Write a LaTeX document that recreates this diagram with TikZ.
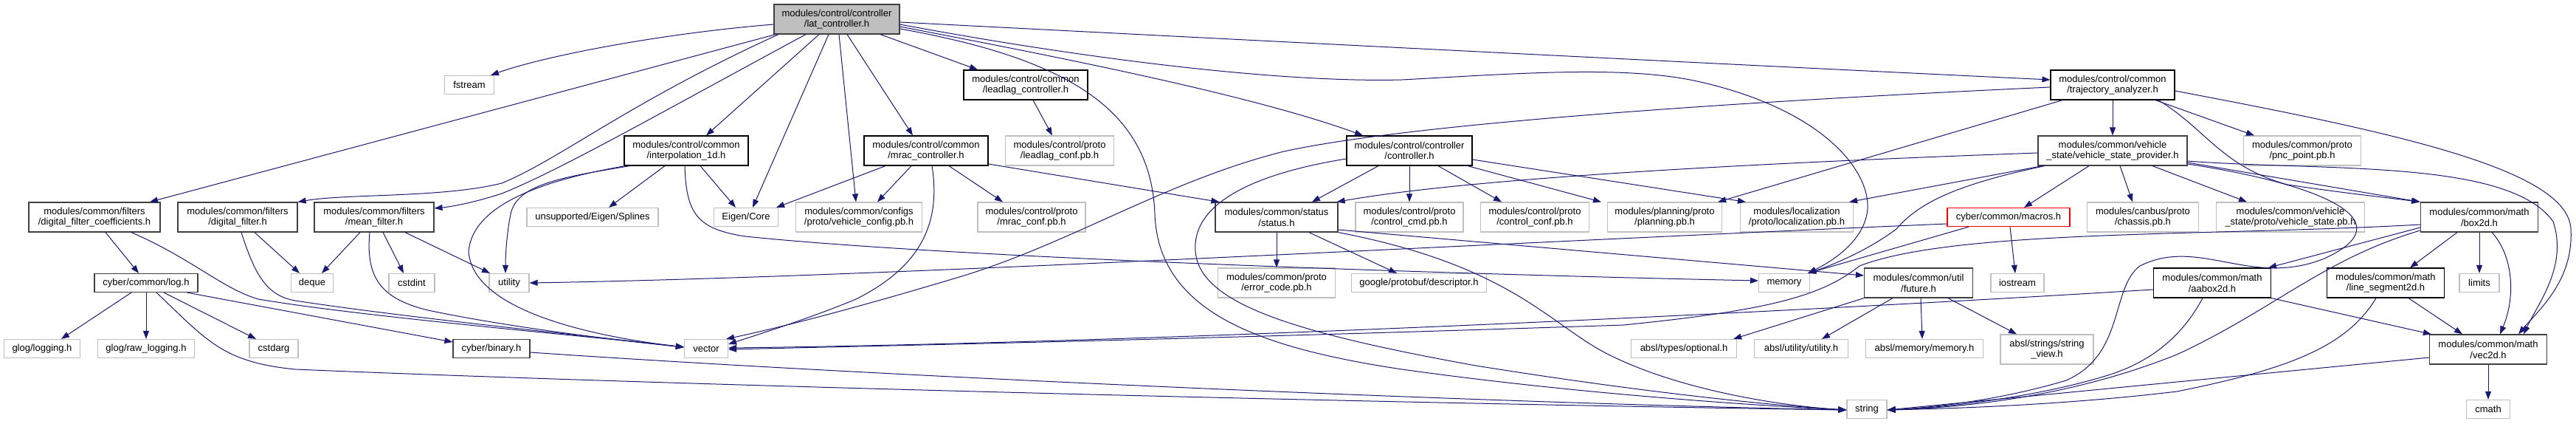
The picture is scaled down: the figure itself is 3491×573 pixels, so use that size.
\documentclass[tikz,border=0pt]{standalone}
\usepackage{fontspec}
\setmainfont{Liberation Sans}
\usetikzlibrary{arrows.meta}
\definecolor{edgeblue}{HTML}{191970}
\definecolor{lightbd}{HTML}{BFBFBF}
\definecolor{darkbd}{HTML}{404040}
\definecolor{rootfill}{HTML}{BFBFBF}
\begin{document}
\begin{tikzpicture}[x=1pt,y=-1pt,
  every node/.style={font=\fontsize{13pt}{14.7pt}\selectfont, align=center, inner sep=0pt, rectangle, fill=white},
  one/.style={minimum height=25pt},
  two/.style={minimum height=40pt},
  docb/.style={draw=black, line width=1.2pt},
  docg/.style={draw=darkbd, line width=1.2pt},
  ext/.style={draw=lightbd, line width=1.2pt},
  rootnode/.style={draw=darkbd, fill=rootfill, line width=1.2pt},
  rednode/.style={draw=red, line width=1.2pt},
  edge/.style={draw=edgeblue, line width=1pt, -{Triangle[length=11pt,width=8pt]}}]
\useasboundingbox (0,0) rectangle (3491,573);

% row 0
\node[rootnode,two,minimum width=170pt] (lat) at (1134,26) {modules/control/controller\\/lat\_controller.h};
% row 1
\node[ext,one,minimum width=67pt] (fstream) at (636,115) {fstream};
\node[docb,two,minimum width=168pt] (leadlag) at (1390,115) {modules/control/common\\/leadlag\_controller.h};
\node[docb,two,minimum width=168pt] (traj) at (2863,115) {modules/control/common\\/trajectory\_analyzer.h};
% row 2
\node[docb,two,minimum width=168pt] (interp) at (930,204) {modules/control/common\\/interpolation\_1d.h};
\node[docb,two,minimum width=168pt] (mrac) at (1255,204) {modules/control/common\\/mrac\_controller.h};
\node[ext,two,minimum width=147pt] (leadconf) at (1436,204) {modules/control/proto\\/leadlag\_conf.pb.h};
\node[docb,two,minimum width=170pt] (ctrl) at (1910,204) {modules/control/controller\\/controller.h};
\node[docg,two,minimum width=202pt] (vsp) at (2863,204) {modules/common/vehicle\\\_state/vehicle\_state\_provider.h};
\node[ext,two,minimum width=159pt] (pnc) at (3120,204) {modules/common/proto\\/pnc\_point.pb.h};
% row 3
\node[docg,two,minimum width=178pt] (dfc) at (128,294) {modules/common/filters\\/digital\_filter\_coefficients.h};
\node[docg,two,minimum width=162pt] (df) at (322,294) {modules/common/filters\\/digital\_filter.h};
\node[docg,two,minimum width=162pt] (mf) at (507,294) {modules/common/filters\\/mean\_filter.h};
\node[ext,one,minimum width=178pt] (splines) at (803,294) {unsupported/Eigen/Splines};
\node[ext,one,minimum width=87pt] (eigen) at (1011,294) {Eigen/Core};
\node[ext,two,minimum width=171pt] (vconf) at (1164,294) {modules/common/configs\\/proto/vehicle\_config.pb.h};
\node[ext,two,minimum width=146pt] (mconf) at (1398,294) {modules/control/proto\\/mrac\_conf.pb.h};
\node[docg,two,minimum width=166pt] (status) at (1730,294) {modules/common/status\\/status.h};
\node[ext,two,minimum width=146pt] (cmd) at (1910,294) {modules/control/proto\\/control\_cmd.pb.h};
\node[ext,two,minimum width=147pt] (cconf) at (2080,294) {modules/control/proto\\/control\_conf.pb.h};
\node[ext,two,minimum width=155pt] (plan) at (2256,294) {modules/planning/proto\\/planning.pb.h};
\node[ext,two,minimum width=153pt] (loc) at (2435,294) {modules/localization\\/proto/localization.pb.h};
\node[rednode,one,minimum width=166pt] (macros) at (2722,294) {cyber/common/macros.h};
\node[ext,two,minimum width=151pt] (chassis) at (2904,294) {modules/canbus/proto\\/chassis.pb.h};
\node[ext,two,minimum width=201pt] (vstate) at (3104,294) {modules/common/vehicle\\\_state/proto/vehicle\_state.pb.h};
\node[docg,two,minimum width=159pt] (box) at (3360,294) {modules/common/math\\/box2d.h};
% row 4
\node[docg,one,minimum width=140pt] (log) at (198,383) {cyber/common/log.h};
\node[ext,one,minimum width=57pt] (deque) at (423,383) {deque};
\node[ext,one,minimum width=62pt] (cstdint) at (558,383) {cstdint};
\node[ext,one,minimum width=54pt] (utility) at (690,383) {utility};
\node[ext,two,minimum width=159pt] (errc) at (1730,383) {modules/common/proto\\/error\_code.pb.h};
\node[ext,one,minimum width=183pt] (desc) at (1923,383) {google/protobuf/descriptor.h};
\node[ext,one,minimum width=69pt] (memory) at (2418,383) {memory};
\node[docg,two,minimum width=147pt] (future) at (2600,383) {modules/common/util\\/future.h};
\node[ext,one,minimum width=72pt] (iostream) at (2734,383) {iostream};
\node[docb,two,minimum width=159pt] (aabox) at (2998,383) {modules/common/math\\/aabox2d.h};
\node[docb,two,minimum width=159pt] (lseg) at (3233,383) {modules/common/math\\/line\_segment2d.h};
\node[ext,one,minimum width=54pt] (limits) at (3360,383) {limits};
% row 5
\node[ext,one,minimum width=103pt] (glog) at (57,472) {glog/logging.h};
\node[ext,one,minimum width=131pt] (rawlog) at (198,472) {glog/raw\_logging.h};
\node[ext,one,minimum width=66pt] (cstdarg) at (371,472) {cstdarg};
\node[docg,one,minimum width=104pt] (binary) at (666,472) {cyber/binary.h};
\node[ext,one,minimum width=59pt] (vector) at (957,472) {vector};
\node[ext,one,minimum width=143pt] (optional) at (2282,472) {absl/types/optional.h};
\node[ext,one,minimum width=127pt] (autil) at (2441,472) {absl/utility/utility.h};
\node[ext,one,minimum width=159pt] (amem) at (2608,472) {absl/memory/memory.h};
\node[ext,two,minimum width=126pt] (sview) at (2774,473) {absl/strings/string\\\_view.h};
\node[docg,two,minimum width=159pt] (vec2d) at (3372,473) {modules/common/math\\/vec2d.h};
% row 6
\node[ext,one,minimum width=54pt] (string) at (2530,554) {string};
\node[ext,one,minimum width=59pt] (cmath) at (3372,554) {cmath};

% ---- edges from lat_controller
\draw[edge] ([yshift=-7pt]lat.west) .. controls (900,45) and (740,75) .. ([xshift=29pt]fstream.north);
\draw[edge] ([xshift=-83pt]lat.south) -- ([xshift=75pt]dfc.north);
\draw[edge] ([xshift=-79pt]lat.south) .. controls (850,140) and (760,215) .. (680,248) .. controls (600,268) and (470,262) .. (df.north east);
\draw[edge] ([xshift=-42pt]lat.south) .. controls (900,150) and (760,230) .. (680,262) .. controls (640,275) and (610,280) .. ([yshift=12pt]mf.east);
\draw[edge] ([xshift=-24pt]lat.south) -- ([xshift=27pt]interp.north);
\draw[edge] ([xshift=-11pt]lat.south) -- ([xshift=9pt]eigen.north);
\draw[edge] ([xshift=3pt]lat.south) -- ([xshift=-4pt]vconf.north);
\draw[edge] ([xshift=14pt]lat.south) -- ([xshift=-18pt]mrac.north);
\draw[edge] ([xshift=59pt]lat.south) -- ([xshift=-65pt]leadlag.north);
\draw[edge] ([yshift=-4pt]lat.east) .. controls (1800,60) and (2400,90) .. ([yshift=7pt]traj.west);
\draw[edge] ([yshift=-7pt]lat.east) .. controls (1500,85) and (1750,112) .. (1900,108) .. controls (2050,100) and (2200,88) .. (2300,110) .. controls (2480,150) and (2540,240) .. (2530,290) .. controls (2522,330) and (2480,355) .. ([xshift=-3pt]memory.north east);
\draw[edge] ([yshift=-10pt]lat.east) .. controls (1450,80) and (1700,130) .. ([xshift=-63pt]ctrl.north);
\draw[edge] ([yshift=-13pt]lat.east) .. controls (1450,80) and (1560,150) .. (1565,290) .. controls (1570,420) and (1700,470) .. (1900,500) .. controls (2150,535) and (2400,550) .. ([yshift=-1pt]string.west);

% ---- interpolation_1d
\draw[edge] ([xshift=-29pt]interp.south) -- ([xshift=22pt]splines.north);
\draw[edge] ([xshift=19pt]interp.south) -- ([xshift=-14pt]eigen.north);
\draw[edge] ([xshift=8pt]interp.south west) .. controls (760,240) and (700,250) .. (692,290) .. controls (686,320) and (685,350) .. ([xshift=-5pt]utility.north);
\draw[edge] ([xshift=2pt]interp.south west) .. controls (700,250) and (640,290) .. (635,340) .. controls (640,420) and (800,455) .. ([yshift=2pt]vector.west);
\draw[edge] ([xshift=-2pt]interp.south) .. controls (930,290) and (945,310) .. (1010,320) .. controls (1300,350) and (2000,372) .. ([yshift=3pt]memory.west);

% ---- mrac_controller
\draw[edge] ([xshift=-55pt]mrac.south) -- ([xshift=-3pt]eigen.north east);
\draw[edge] ([xshift=-20pt]mrac.south) -- ([xshift=25pt]vconf.north);
\draw[edge] ([xshift=8pt]mrac.south) .. controls (1275,300) and (1250,360) .. (1160,405) .. controls (1100,430) and (1030,452) .. ([yshift=6pt]vector.east);
\draw[edge] ([xshift=31pt]mrac.south) -- ([xshift=-39pt]mconf.north);
\draw[edge] ([yshift=-18pt]mrac.east) -- ([xshift=6pt]status.north west);

% ---- leadlag
\draw[edge] ([xshift=10pt]leadlag.south) -- ([xshift=-10pt]leadconf.north);

% ---- trajectory_analyzer
\draw[edge] (traj.south) -- (vsp.north);
\draw[edge] ([xshift=58pt]traj.south) -- ([xshift=-65pt]pnc.north);
\draw[edge] ([xshift=-68pt]traj.south) -- ([xshift=-6pt]plan.north east);
\draw[edge] ([yshift=-3pt]traj.west) .. controls (2300,140) and (1900,170) .. (1740,205) .. controls (1580,245) and (1450,330) .. (1300,375) .. controls (1150,420) and (1050,445) .. ([xshift=-3pt]vector.north east);
\draw[edge] ([yshift=-8pt]traj.east) .. controls (3250,180) and (3480,230) .. (3484,310) .. controls (3488,380) and (3440,420) .. ([xshift=41pt]vec2d.north);
\draw[edge] ([xshift=62pt]traj.south) .. controls (2990,175) and (3010,225) .. (3100,250) .. controls (3180,262) and (3240,268) .. ([xshift=-1pt]box.north west);

% ---- vehicle_state_provider
\draw[edge] ([yshift=-3pt]vsp.west) .. controls (2400,220) and (2000,240) .. ([xshift=-2pt]status.north east);
\draw[edge] ([xshift=-95pt]vsp.south) -- ([xshift=-6pt]loc.north east);
\draw[edge] ([xshift=-92pt]vsp.south) .. controls (2650,250) and (2600,275) .. (2570,310) .. controls (2530,340) and (2480,360) .. ([xshift=-3pt]memory.north east);
\draw[edge] ([xshift=-32pt]vsp.south) -- ([xshift=21pt]macros.north);
\draw[edge] ([xshift=10pt]vsp.south) -- ([xshift=-14pt]chassis.north);
\draw[edge] ([xshift=54pt]vsp.south) -- ([xshift=-59pt]vstate.north);
\draw[edge] ([yshift=-16pt]vsp.east) -- (box.north west);
\draw[edge] ([yshift=-14pt]vsp.east) .. controls (3150,232) and (3400,215) .. (3460,300) .. controls (3480,360) and (3440,410) .. ([xshift=48pt]vec2d.north);
\draw[edge] ([yshift=-18pt]vsp.east) .. controls (3150,250) and (3260,300) .. (3150,350) .. controls (3050,390) and (2980,320) .. (2900,360) .. controls (2860,390) and (2880,480) .. (2800,515) .. controls (2700,545) and (2600,553) .. ([yshift=-1pt]string.east);

% ---- box2d
\draw[edge] ([yshift=-14pt]box.west) -- ([xshift=-4pt]aabox.north east);
\draw[edge] ([yshift=-10pt]box.west) .. controls (3000,320) and (2650,310) .. (2520,360) .. controls (2470,400) and (2400,420) .. (2200,440) .. controls (1600,460) and (1200,468) .. ([yshift=-1pt]vector.east);
\draw[edge] ([xshift=-30pt]box.south) -- ([xshift=33pt]lseg.north);
\draw[edge] (box.south) -- (limits.north);
\draw[edge] ([xshift=17pt]box.south) .. controls (3405,345) and (3410,400) .. ([xshift=16pt]vec2d.north);
\draw[edge] ([yshift=-18pt]box.west) .. controls (3150,350) and (3080,420) .. (2950,480) .. controls (2800,540) and (2650,552) .. ([yshift=-1pt]string.east);

% ---- aabox2d
\draw[edge] ([yshift=-9pt]aabox.west) .. controls (2300,430) and (1500,465) .. ([yshift=1pt]vector.east);
\draw[edge] (aabox.south east) -- ([xshift=3pt]vec2d.north west);
\draw[edge] ([xshift=-13pt]aabox.south) .. controls (2960,450) and (2920,490) .. (2850,510) .. controls (2750,540) and (2620,553) .. ([yshift=-1pt]string.east);

% ---- line_segment2d
\draw[edge] ([xshift=31pt]lseg.south) -- ([xshift=-35pt]vec2d.north);
\draw[edge] ([xshift=-13pt]lseg.south) .. controls (3180,470) and (3100,500) .. (2950,530) .. controls (2800,548) and (2650,553) .. ([yshift=-1pt]string.east);

% ---- vec2d
\draw[edge] (vec2d.south) -- (cmath.north);
\draw[edge] ([yshift=-11pt]vec2d.west) -- ([yshift=-1pt]string.east);

% ---- status
\draw[edge] (status.south) -- (errc.north);
\draw[edge] ([xshift=44pt]status.south) -- ([xshift=-30pt]desc.north);
\draw[edge] ([yshift=-17pt]status.east) -- ([yshift=10pt]future.west);
\draw[edge] (status.south east) .. controls (2050,360) and (2100,440) .. (2180,480) .. controls (2280,530) and (2420,550) .. ([yshift=-1pt]string.west);

% ---- controller
\draw[edge] ([xshift=-42pt]ctrl.south) -- ([xshift=48pt]status.north);
\draw[edge] (ctrl.south) -- (cmd.north);
\draw[edge] ([xshift=39pt]ctrl.south) -- ([xshift=-45pt]cconf.north);
\draw[edge] ([xshift=79pt]ctrl.south) -- ([xshift=-86pt]plan.north);
\draw[edge] ([yshift=-12pt]ctrl.east) -- ([xshift=8pt]loc.north west);
\draw[edge] ([yshift=-11pt]ctrl.west) .. controls (1700,235) and (1615,275) .. (1620,340) .. controls (1625,410) and (1750,450) .. (2000,495) .. controls (2250,535) and (2420,550) .. ([yshift=-1pt]string.west);

% ---- macros
\draw[edge] ([xshift=2pt]macros.south) -- ([xshift=-3pt]iostream.north);
\draw[edge] ([xshift=-54pt]macros.south) -- ([xshift=-3pt]memory.north east);
\draw[edge] ([yshift=-9pt]macros.west) .. controls (2000,330) and (1200,375) .. (utility.east);

% ---- future
\draw[edge] (future.south west) -- ([xshift=-5pt]optional.north east);
\draw[edge] ([xshift=-35pt]future.south) -- ([xshift=28pt]autil.north);
\draw[edge] ([xshift=3pt]future.south) -- ([xshift=-3pt]amem.north);
\draw[edge] ([xshift=40pt]future.south) -- ([xshift=-41pt]sview.north);

% ---- log
\draw[edge] ([xshift=-20pt]log.south) -- ([xshift=26pt]glog.north);
\draw[edge] (log.south) -- (rawlog.north);
\draw[edge] ([xshift=24pt]log.south) -- ([xshift=-24pt]cstdarg.north);
\draw[edge] ([xshift=14pt]log.south) .. controls (280,460) and (300,490) .. (400,500) .. controls (1000,525) and (2000,548) .. ([yshift=-1pt]string.west);
\draw[edge] ([xshift=-15pt]log.south east) -- ([yshift=9pt]binary.west);

% ---- binary
\draw[edge] ([yshift=-5pt]binary.east) .. controls (1200,510) and (2000,545) .. ([yshift=-1pt]string.west);

% ---- filters
\draw[edge] ([xshift=15pt]dfc.south) -- ([xshift=-10pt]log.north);
\draw[edge] ([xshift=50pt]dfc.south) .. controls (260,350) and (300,390) .. (350,405) .. controls (500,430) and (800,455) .. ([yshift=2pt]vector.west);
\draw[edge] ([xshift=23pt]df.south) -- ([xshift=-17pt]deque.north);
\draw[edge] ([xshift=5pt]df.south) .. controls (345,370) and (360,400) .. (400,407) .. controls (550,430) and (800,455) .. ([yshift=2pt]vector.west);
\draw[edge] ([xshift=-19pt]mf.south) -- ([xshift=13pt]deque.north);
\draw[edge] ([xshift=12pt]mf.south) -- ([xshift=-11pt]cstdint.north);
\draw[edge] ([xshift=42pt]mf.south) -- ([xshift=-26pt]utility.north);
\draw[edge] ([xshift=-6pt]mf.south) .. controls (495,380) and (520,405) .. (580,420) .. controls (700,445) and (850,462) .. ([yshift=2pt]vector.west);
\end{tikzpicture}
\end{document}
